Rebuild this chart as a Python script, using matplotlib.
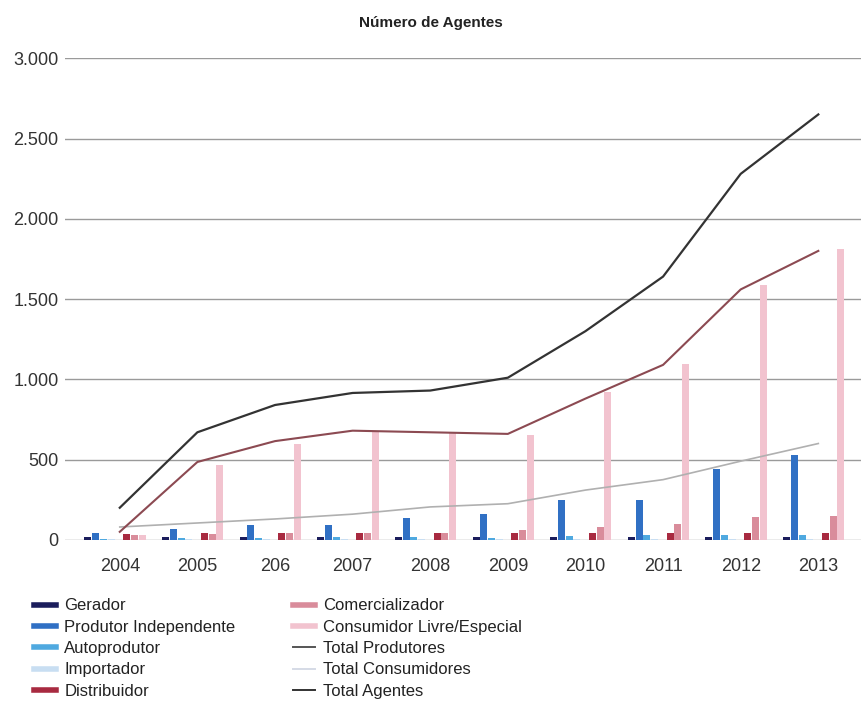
import matplotlib.pyplot as plt
import numpy as np
from matplotlib.lines import Line2D

# dados
anos = ['2004', '2005', '206', '2007', '2008', '2009', '2010', '2011', '2012', '2013']
gerador = [15, 18, 20, 20, 20, 20, 20, 20, 20, 20]
produtor = [40, 65, 90, 90, 135, 160, 250, 250, 440, 530]
autoprodutor = [8, 10, 12, 15, 18, 10, 25, 28, 28, 30]
importador = [3, 3, 3, 3, 3, 3, 3, 3, 3, 3]
distribuidor = [35, 40, 42, 42, 42, 42, 42, 42, 45, 45]
comercializador = [30, 35, 40, 40, 45, 60, 80, 100, 140, 150]
consumidor = [30, 465, 600, 675, 665, 650, 920, 1095, 1590, 1810]
total_produtores = [80, 105, 130, 160, 205, 225, 310, 375, 490, 600]
total_consumidores = [50, 485, 615, 680, 670, 660, 880, 1090, 1560, 1800]
total_agentes = [200, 670, 840, 915, 930, 1010, 1300, 1640, 2280, 2650]

fonte = ['Liberation Sans Narrow', 'Liberation Sans', 'DejaVu Sans']
plt.rcParams['font.family'] = fonte

fig = plt.figure(figsize=(8.61, 7.02), dpi=100)
ax = fig.add_axes([0.076, 0.231, 0.924, 0.686])

x = np.arange(len(anos))
w = 0.09
barras = [
    (gerador, -0.41, '#1b1d5c', 'Gerador'),
    (produtor, -0.31, '#3070c4', 'Produtor Independente'),
    (autoprodutor, -0.21, '#4fa9e0', 'Autoprodutor'),
    (importador, -0.11, '#c8def2', 'Importador'),
    (distribuidor, 0.09, '#a82a40', 'Distribuidor'),
    (comercializador, 0.19, '#d98c9b', 'Comercializador'),
    (consumidor, 0.29, '#f2c3cf', 'Consumidor Livre/Especial'),
]
for valores, desl, cor, nome in barras:
    ax.bar(x + desl, valores, width=w, color=cor, zorder=3)

# linhas de totais
ax.plot(x, total_produtores, color='#b0b0b0', lw=1.2, zorder=4)
ax.plot(x, total_consumidores, color='#8c4a52', lw=1.5, zorder=4)
ax.plot(x, total_agentes, color='#333333', lw=1.6, zorder=4)

ax.set_xlim(-0.7, 9.55)
ax.set_ylim(0, 3000)
ax.set_yticks(range(0, 3001, 500))
ax.set_yticklabels(['0', '500', '1.000', '1.500', '2.000', '2.500', '3.000'])
ax.set_xticks(x)
ax.set_xticklabels(anos)
ax.tick_params(axis='both', length=0, labelsize=13, colors='#333333')
ax.tick_params(axis='x', pad=13)
ax.tick_params(axis='y', pad=5)
ax.grid(axis='y', color='#9a9a9a', lw=1.0, zorder=0)
for s in ax.spines.values():
    s.set_visible(False)

fig.text(0.5, 0.967, 'Número de Agentes', ha='center', va='center',
         fontsize=11, fontweight='bold', color='#222222')

# legenda em duas colunas
leg1 = [Line2D([], [], color=c, lw=4) for _, _, c, _ in barras[:5]]
nomes1 = [n for _, _, _, n in barras[:5]]
leg2 = [Line2D([], [], color=barras[5][2], lw=4),
        Line2D([], [], color=barras[6][2], lw=4),
        Line2D([], [], color='#555555', lw=1.4),
        Line2D([], [], color='#d5dbe6', lw=1.4),
        Line2D([], [], color='#333333', lw=1.4)]
nomes2 = ['Comercializador', 'Consumidor Livre/Especial', 'Total Produtores',
          'Total Consumidores', 'Total Agentes']
for h, n, x0 in [(leg1, nomes1, 0.032), (leg2, nomes2, 0.333)]:
    fig.legend(h, n, loc='upper left', bbox_to_anchor=(x0, 0.157), frameon=False,
               fontsize=12, handlelength=1.3, handletextpad=0.5, labelspacing=0.38,
               borderaxespad=0, labelcolor='#222222')

fig.savefig('out.png')
